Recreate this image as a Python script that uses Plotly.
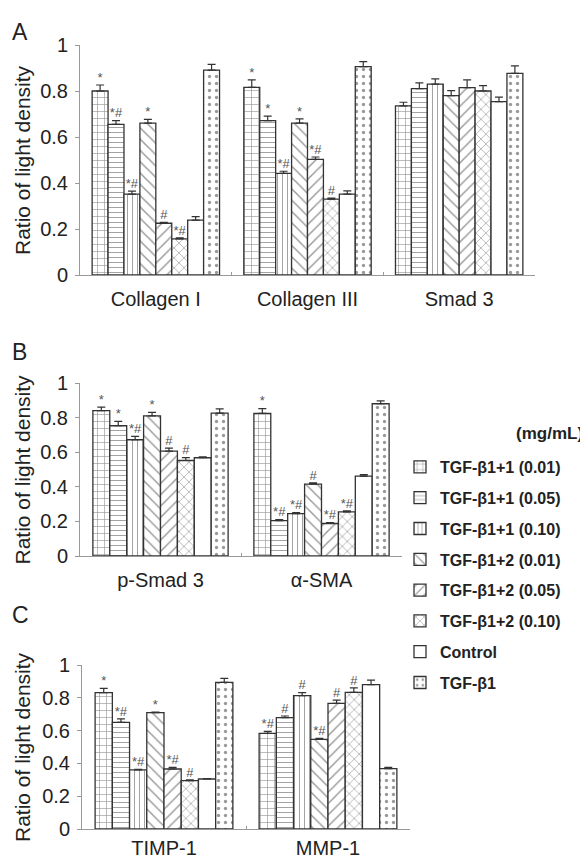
import plotly.graph_objects as go

W, H = 588, 859
OFF = 8  # page body margin of the browser: figure origin sits 8px in

series_names = ["TGF-β1+1 (0.01)", "TGF-β1+1 (0.05)", "TGF-β1+1 (0.10)",
                "TGF-β1+2 (0.01)", "TGF-β1+2 (0.05)", "TGF-β1+2 (0.10)",
                "Control", "TGF-β1"]

# Panel A
cats_a = ["Collagen I", "Collagen III", "Smad 3"]
collagen1 = [0.800, 0.655, 0.352, 0.660, 0.225, 0.157, 0.239, 0.891]
collagen1_err = [0.026, 0.016, 0.013, 0.017, 0.004, 0.004, 0.015, 0.025]
collagen1_sig = ["*", "*#", "*#", "*", "#", "*#", "", ""]
collagen3 = [0.816, 0.671, 0.442, 0.660, 0.503, 0.330, 0.352, 0.906]
collagen3_err = [0.032, 0.020, 0.009, 0.019, 0.010, 0.004, 0.014, 0.022]
collagen3_sig = ["*", "*", "*#", "*", "*#", "#", "", ""]
smad3 = [0.735, 0.810, 0.830, 0.780, 0.815, 0.800, 0.754, 0.877]
smad3_err = [0.016, 0.025, 0.023, 0.022, 0.033, 0.023, 0.019, 0.032]
smad3_sig = ["", "", "", "", "", "", "", ""]

# Panel B
cats_b = ["p-Smad 3", "α-SMA"]
psmad3 = [0.840, 0.753, 0.672, 0.810, 0.606, 0.552, 0.568, 0.826]
psmad3_err = [0.020, 0.025, 0.020, 0.020, 0.017, 0.017, 0.005, 0.025]
psmad3_sig = ["*", "*", "*#", "*", "#", "#", "", ""]
asma = [0.825, 0.205, 0.245, 0.415, 0.188, 0.255, 0.462, 0.880]
asma_err = [0.027, 0.006, 0.006, 0.008, 0.005, 0.006, 0.008, 0.017]
asma_sig = ["*", "*#", "*#", "#", "*#", "*#", "", ""]

# Panel C
cats_c = ["TIMP-1", "MMP-1"]
timp1 = [0.831, 0.650, 0.360, 0.709, 0.366, 0.295, 0.305, 0.894]
timp1_err = [0.026, 0.022, 0.004, 0.004, 0.010, 0.004, 0.002, 0.024]
timp1_sig = ["*", "*#", "*#", "*", "*#", "#", "", ""]
mmp1 = [0.583, 0.679, 0.813, 0.547, 0.766, 0.833, 0.880, 0.368]
mmp1_err = [0.012, 0.010, 0.018, 0.005, 0.020, 0.028, 0.028, 0.008]
mmp1_sig = ["*#", "#", "#", "*#", "#", "#", "", ""]

y_ticks = [0, 0.2, 0.4, 0.6, 0.8, 1]
y_ticktext = ["0", "0.2", "0.4", "0.6", "0.8", "1"]
y_title = "Ratio of light density"

patterns = ["+", "-", "|", "\\", "/", "x", "", "."]
pattern_sizes = [7, 5, 5, 8, 8, 7, 8, 7]

FONT = "Liberation Sans, Arial, sans-serif"
BARGAP = 0.16
N = len(series_names)


def fx(px):
    return (px - OFF) / W


def fy(py):
    return 1 - (py - OFF) / H


panels = [
    dict(cats=cats_a, vals=[collagen1, collagen3, smad3],
         errs=[collagen1_err, collagen3_err, smad3_err],
         sigs=[collagen1_sig, collagen3_sig, smad3_sig],
         xa="x", ya="y", px=(80, 535), py=(275, 45), letter="A", ly=32, lstand=6),
    dict(cats=cats_b, vals=[psmad3, asma], errs=[psmad3_err, asma_err],
         sigs=[psmad3_sig, asma_sig],
         xa="x2", ya="y2", px=(80, 402), py=(556, 383), letter="B", ly=352, lstand=6),
    dict(cats=cats_c, vals=[timp1, mmp1], errs=[timp1_err, mmp1_err],
         sigs=[timp1_sig, mmp1_sig],
         xa="x3", ya="y3", px=(82, 410), py=(829, 665), letter="C", ly=615, lstand=1),
]

fig = go.Figure()
bw = (1 - BARGAP) / N

for pi, p in enumerate(panels):
    ncat = len(p["cats"])
    xs = list(range(ncat))
    for s in range(N):
        yv = [p["vals"][c][s] for c in range(ncat)]
        ye = [p["errs"][c][s] for c in range(ncat)]
        fig.add_trace(go.Bar(
            x=xs, y=yv, name=series_names[s], xaxis=p["xa"], yaxis=p["ya"],
            legendgroup="g%d" % s, showlegend=(pi == 0),
            marker=dict(color="white", line=dict(color="#333", width=1.3),
                        pattern=dict(shape=patterns[s], fgcolor="#333", bgcolor="white",
                                     size=pattern_sizes[s], solidity=0.18,
                                     fillmode="overlay")),
            error_y=dict(type="data", array=ye, arrayminus=[0] * ncat, symmetric=False,
                         color="#333", thickness=1.2, width=4),
        ))
        # significance marks above each bar
        tx = [c - (1 - BARGAP) / 2 + (s + 0.5) * bw for c in range(ncat)]
        ty = [p["vals"][c][s] + p["errs"][c][s] for c in range(ncat)]
        tt = [p["sigs"][c][s] for c in range(ncat)]
        fig.add_trace(go.Scatter(
            x=tx, y=ty, text=tt, mode="text", textposition="top center",
            textfont=dict(family=FONT, size=13, color="#555"),
            xaxis=p["xa"], yaxis=p["ya"], showlegend=False, hoverinfo="skip",
            cliponaxis=False,
        ))

layout = dict(
    width=W, height=H, margin=dict(l=0, r=0, t=0, b=0, autoexpand=False),
    paper_bgcolor="white", plot_bgcolor="white",
    barmode="group", bargap=BARGAP, bargroupgap=0,
    font=dict(family=FONT, color="#222"),
    legend=dict(x=fx(400), y=fy(450), xanchor="left", yanchor="top",
                font=dict(family=FONT, size=16, color="#222", weight="bold"),
                tracegroupgap=7, bgcolor="rgba(0,0,0,0)"),
    annotations=[],
)

for pi, p in enumerate(panels):
    sfx = "" if pi == 0 else str(pi + 1)
    ncat = len(p["cats"])
    layout["xaxis" + sfx] = dict(
        domain=[fx(p["px"][0]), fx(p["px"][1])], anchor=p["ya"], automargin=False,
        range=[-0.5, ncat - 0.5], tickvals=list(range(ncat)), ticktext=p["cats"],
        ticks="", ticklabelstandoff=p["lstand"], showline=True, linecolor="#999",
        linewidth=1, showgrid=False, zeroline=False,
        tickfont=dict(size=20, color="#222"),
        minor=dict(tickvals=[c + 0.5 for c in range(ncat - 1)], ticks="inside",
                   ticklen=3, tickcolor="#999"),
    )
    layout["yaxis" + sfx] = dict(
        domain=[fy(p["py"][0]), fy(p["py"][1])], anchor=p["xa"],
        automargin=False,
        range=[0, 1], tickvals=y_ticks, ticktext=y_ticktext, ticks="outside",
        ticklen=4, tickcolor="#999", showline=True, linecolor="#999", linewidth=1,
        showgrid=False, zeroline=False, tickfont=dict(size=20, color="#222"),
        ticklabelstandoff=3,
    )
    ymid = fy((p["py"][0] + p["py"][1]) / 2)
    layout["annotations"].append(dict(
        text=y_title, x=fx(22), y=ymid, xref="paper", yref="paper",
        xanchor="center", yanchor="middle", textangle=-90, showarrow=False,
        font=dict(family=FONT, size=21, color="#222")))
    layout["annotations"].append(dict(
        text=p["letter"], x=fx(10), y=fy(p["ly"]), xref="paper", yref="paper",
        xanchor="left", yanchor="middle", showarrow=False,
        font=dict(family=FONT, size=23, color="#222")))

layout["annotations"].append(dict(
    text="(mg/mL)", x=fx(585), y=fy(433), xref="paper", yref="paper",
    xanchor="right", yanchor="middle", showarrow=False,
    font=dict(family=FONT, size=17, color="#222", weight="bold")))

fig.update_layout(**layout)
fig.write_html("out.html")
